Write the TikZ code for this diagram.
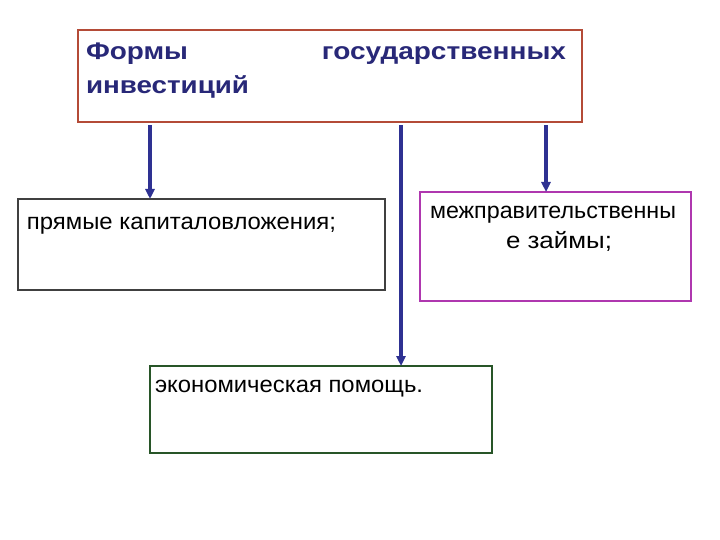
\documentclass[tikz,border=0pt]{standalone}
\usepackage{fontspec}
\usepackage{graphicx}
\setmainfont{Liberation Sans}
\usetikzlibrary{arrows.meta}
\definecolor{navy}{RGB}{46,49,146}
\definecolor{titlecol}{RGB}{40,40,120}
\definecolor{topborder}{RGB}{180,75,55}
\definecolor{leftborder}{RGB}{64,64,64}
\definecolor{rightborder}{RGB}{175,55,175}
\definecolor{botborder}{RGB}{40,85,40}
\newcommand\fitw[2]{\resizebox{#1pt}{\height}{#2}}
\tikzset{
  boxshape/.style={rectangle, line width=1.1pt, inner sep=0pt, outer sep=0pt, anchor=north west, fill=white},
  txt/.style={inner sep=0pt, outer sep=0pt, anchor=base west, font=\fontsize{23}{27}\selectfont},
  ttl/.style={inner sep=0pt, outer sep=0pt, anchor=base west, text=titlecol, font=\fontsize{24}{28}\selectfont\bfseries},
  arr/.style={draw=navy, line width=4pt, -{Triangle[width=9pt,length=10pt]}, shorten <=3.5pt}
}
\begin{document}
\begin{tikzpicture}[x=1pt,y=-1pt]
\useasboundingbox[fill=white] (0,0) rectangle (720,540);
% boxes
\node[boxshape, draw=topborder, minimum width=504pt, minimum height=92pt] (top) at (78,30) {};
\node[boxshape, draw=leftborder, minimum width=367pt, minimum height=91pt] (left) at (18,199) {};
\node[boxshape, draw=rightborder, minimum width=271pt, minimum height=109pt] (right) at (420,192) {};
\node[boxshape, draw=botborder, minimum width=342pt, minimum height=87pt] (bot) at (150,366) {};
% texts
\node[ttl] (t1) at (86,59.5) {\fitw{102}{Формы}};
\node[ttl, anchor=base east] (t2) at (566,59.5) {\fitw{244}{государственных}};
\node[ttl] (t3) at (86,93.5) {\fitw{163}{инвестиций}};
\node[txt] (l1) at (27,229.5) {\fitw{309}{прямые капиталовложения;}};
\node[txt] (r1) at (430,218.3) {\fitw{246}{межправительственны}};
\node[txt] (r2) at (506,248) {\fitw{106}{е займы;}};
\node[txt] (b1) at (155,392.5) {\fitw{268}{экономическая помощь.}};
% arrow columns
\coordinate (xa) at (150,0);
\coordinate (xb) at (401,0);
\coordinate (xc) at (546,0);
\draw[arr] (xa |- top.south) -- (xa |- left.north);
\draw[arr] (xb |- top.south) -- (xb |- bot.north);
\draw[arr] (xc |- top.south) -- (xc |- right.north);
\end{tikzpicture}
\end{document}
